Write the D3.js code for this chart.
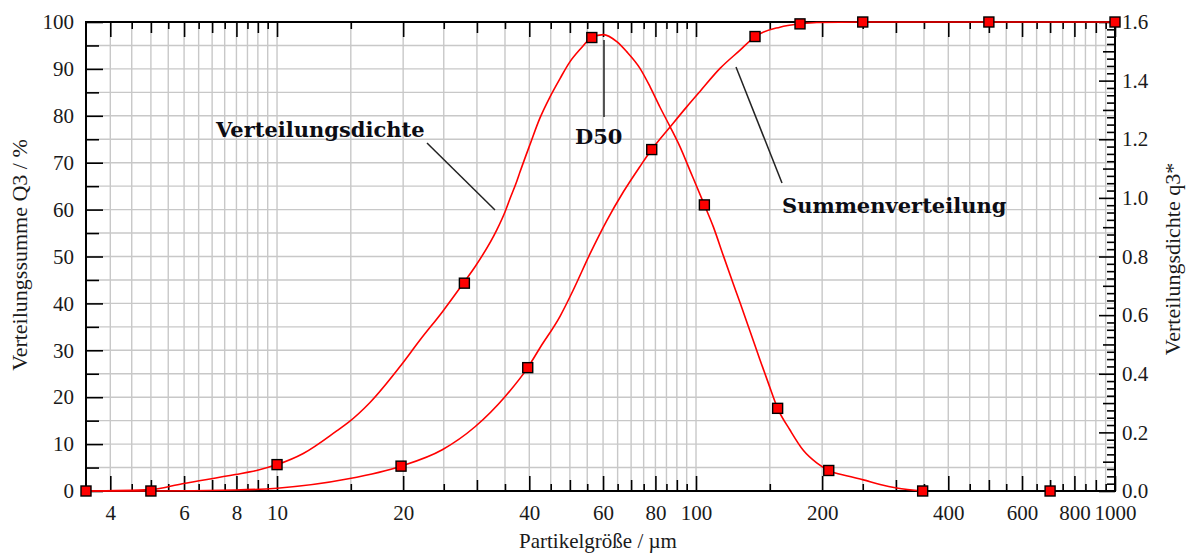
<!DOCTYPE html>
<html>
<head>
<meta charset="utf-8">
<script src="https://cdn.jsdelivr.net/npm/d3@7/dist/d3.min.js"></script>
<style>
  body { margin: 0; background: #fff; }
  svg text { font-family: "Liberation Serif", "Times New Roman", serif; fill: #1a1a1a; }
  .note { font-family: "DejaVu Serif", serif !important; font-weight: bold; fill: #0d0d14; }
</style>
</head>
<body>
<svg id="chart" width="1188" height="556"></svg>
<script>
// tick labels
const xTickLabels = [4, 6, 8, 10, 20, 40, 60, 80, 100, 200, 400, 600, 800, 1000];
const xMidTicks = [5, 7, 9, 30, 50, 70, 90, 300, 500, 700, 900];
const yLeftLabels = [0, 10, 20, 30, 40, 50, 60, 70, 80, 90, 100];
const yRightLabels = [0, 0.2, 0.4, 0.6, 0.8, 1.0, 1.2, 1.4, 1.6];

// Verteilungsdichte q3* (right axis), curve
const dichteSize = [3.5, 5, 5.94, 7.95, 8.94, 10, 11.55, 13.88, 14.8, 16.67, 19.77, 21.94, 24.8, 27.84,
  29.69, 33.44, 35.0, 35.97, 37.33, 38.0, 40.2, 42.4, 44.8, 47.4, 50.0, 52.9, 56.4, 60.1, 64.7, 68.3,
  73.5, 77.7, 82.0, 86.7, 91.6, 96.7, 104.7, 110.0, 116.2, 122.7, 127.4, 134.5, 142.1, 148.8, 156.6,
  167.6, 180.3, 194.1, 207.4, 230, 250.8, 275, 301.3, 347.5];
const dichteQ3 = [0, 0.005, 0.025, 0.056, 0.070, 0.090, 0.128, 0.205, 0.234, 0.302, 0.429, 0.515, 0.611, 0.709,
  0.765, 0.890, 0.952, 0.997, 1.056, 1.088, 1.184, 1.272, 1.344, 1.408, 1.464, 1.507, 1.547, 1.557, 1.533, 1.499,
  1.442, 1.379, 1.310, 1.243, 1.174, 1.094, 0.976, 0.901, 0.803, 0.707, 0.642, 0.546, 0.448, 0.368, 0.282,
  0.208, 0.139, 0.096, 0.070, 0.051, 0.038, 0.022, 0.010, 0];
const dichteMarkSize = [3.5, 10, 28, 56.4, 104.7, 156.6, 207.4, 347.5, 700];
const dichteMarkQ3 = [0, 0.090, 0.709, 1.547, 0.976, 0.282, 0.070, 0, 0];

// Summenverteilung Q3 in % (left axis)
const summeSize = [3.5, 5, 7.95, 10, 14.8, 19.77, 24.8, 29.69, 35.0, 39.66, 42.4, 47.4, 50.9, 55.8, 61.2,
  67.1, 73.5, 78.4, 86.7, 95.0, 102.2, 114.1, 127.4, 138.3, 158.6, 177.1, 194.1, 250, 500, 1000];
const summeQ3 = [0, 0, 0.2, 0.6, 2.6, 5.3, 8.8, 13.7, 20.1, 26.3, 30.5, 37.3, 42.8, 50.5, 57.6,
  63.8, 69.2, 72.8, 77.6, 81.9, 85.2, 90.1, 94.0, 96.9, 98.9, 99.6, 99.9, 100, 100, 100];
const summeMarkSize = [5, 19.77, 39.66, 78.4, 138.3, 177.1, 250, 500, 1000];
const summeMarkQ3 = [0, 5.3, 26.3, 72.8, 96.9, 99.6, 100, 100, 100];

const svg = d3.select("#chart");
const plotLeft = 86, plotRight = 1115, plotTop = 22, plotBottom = 491;

const x = d3.scaleLog().domain([3.5, 1000]).range([plotLeft, plotRight]);
const yL = d3.scaleLinear().domain([0, 100]).range([plotBottom, plotTop]);
const yR = d3.scaleLinear().domain([0, 1.6]).range([plotBottom, plotTop]);

// grid: 0.5 steps below 10, 5 steps up to 100, 50 steps up to 1000
const xGrid = [...d3.range(4, 10, 0.5), ...d3.range(10, 100, 5), ...d3.range(100, 1000, 50)];
const xShort = xGrid.filter(v => !xTickLabels.includes(v) && !xMidTicks.includes(v));

svg.append("g")
  .selectAll("line")
  .data(xGrid)
  .join("line")
  .attr("x1", d => x(d)).attr("x2", d => x(d))
  .attr("y1", plotTop).attr("y2", plotBottom)
  .attr("stroke", "#c8c8c8").attr("stroke-width", 1.4);

svg.append("g")
  .selectAll("line")
  .data(d3.range(5, 100, 5))
  .join("line")
  .attr("x1", plotLeft).attr("x2", plotRight)
  .attr("y1", d => yL(d)).attr("y2", d => yL(d))
  .attr("stroke", "#c8c8c8").attr("stroke-width", 1.4);

// axes with inward ticks
function tickAxis(axis, vals, size) {
  return axis.tickValues(vals).tickSizeInner(-size).tickSizeOuter(0).tickFormat("");
}
function styleAxis(g) {
  g.select(".domain").remove();
  g.selectAll(".tick line").attr("stroke", "#000").attr("stroke-width", 1.6);
  g.selectAll(".tick text").attr("font-size", 21).attr("fill", "#1a1a1a")
    .attr("font-family", "'Liberation Serif', 'Times New Roman', serif");
}

const gB = svg.append("g").attr("transform", `translate(0,${plotBottom})`);
gB.append("g").call(d3.axisBottom(x).tickValues(xTickLabels).tickSizeInner(-15).tickSizeOuter(0)
  .tickPadding(14).tickFormat(d3.format("d"))).call(styleAxis);
gB.append("g").call(tickAxis(d3.axisBottom(x), xMidTicks, 11)).call(styleAxis);
gB.append("g").call(tickAxis(d3.axisBottom(x), xShort, 7)).call(styleAxis);

const gT = svg.append("g").attr("transform", `translate(0,${plotTop})`);
gT.append("g").call(tickAxis(d3.axisTop(x), xTickLabels, 15)).call(styleAxis);
gT.append("g").call(tickAxis(d3.axisTop(x), xMidTicks, 11)).call(styleAxis);
gT.append("g").call(tickAxis(d3.axisTop(x), xShort, 7)).call(styleAxis);

const gL = svg.append("g").attr("transform", `translate(${plotLeft},0)`);
gL.append("g").call(d3.axisLeft(yL).tickValues(yLeftLabels).tickSizeInner(-17).tickSizeOuter(0)
  .tickPadding(12)).call(styleAxis);
gL.append("g").call(tickAxis(d3.axisLeft(yL), d3.range(5, 100, 10), 13)).call(styleAxis);

const gR = svg.append("g").attr("transform", `translate(${plotRight},0)`);
gR.append("g").call(d3.axisRight(yR).tickValues(yRightLabels).tickSizeInner(-16).tickSizeOuter(0)
  .tickPadding(7).tickFormat(d3.format(".1f"))).call(styleAxis);
gR.append("g").call(tickAxis(d3.axisRight(yR), d3.range(1, 16, 2).map(d => d / 10), 12)).call(styleAxis);
gR.append("g").call(tickAxis(d3.axisRight(yR),
  d3.range(0, 65).map(d => d * 0.025).filter((d, i) => i % 4 !== 0), 8)).call(styleAxis);

// frame
svg.append("rect")
  .attr("x", plotLeft).attr("y", plotTop)
  .attr("width", plotRight - plotLeft).attr("height", plotBottom - plotTop)
  .attr("fill", "none").attr("stroke", "#000").attr("stroke-width", 2);

// axis titles
svg.append("text")
  .attr("x", 598).attr("y", 548)
  .attr("text-anchor", "middle").attr("font-size", 21)
  .text("Partikelgröße / µm");
svg.append("text")
  .attr("transform", "translate(27,255) rotate(-90)")
  .attr("text-anchor", "middle").attr("font-size", 22)
  .text("Verteilungssumme Q3 / %");
svg.append("text")
  .attr("transform", "translate(1180,259) rotate(-90)")
  .attr("text-anchor", "middle").attr("font-size", 22)
  .text("Verteilungsdichte q3*");

// curves
const line = d3.line().curve(d3.curveMonotoneX);
svg.append("path")
  .attr("d", line(dichteSize.map((s, i) => [x(s), yR(dichteQ3[i])])))
  .attr("fill", "none").attr("stroke", "#ff0000").attr("stroke-width", 1.6);
svg.append("path")
  .attr("d", line(summeSize.map((s, i) => [x(s), yL(summeQ3[i])])))
  .attr("fill", "none").attr("stroke", "#ff0000").attr("stroke-width", 1.6);

// square markers
const marks = [
  ...dichteMarkSize.map((s, i) => [x(s), yR(dichteMarkQ3[i])]),
  ...summeMarkSize.map((s, i) => [x(s), yL(summeMarkQ3[i])])
];
svg.append("g")
  .selectAll("rect")
  .data(marks)
  .join("rect")
  .attr("x", d => d[0] - 5).attr("y", d => d[1] - 5)
  .attr("width", 10).attr("height", 10)
  .attr("fill", "#f00").attr("stroke", "#000").attr("stroke-width", 1.4);

// annotations with leader lines
const leaders = [
  [427, 143, 495, 210],
  [604, 40, 604, 117],
  [736, 67, 782, 183]
];
svg.append("g")
  .selectAll("line")
  .data(leaders)
  .join("line")
  .attr("x1", d => d[0]).attr("y1", d => d[1])
  .attr("x2", d => d[2]).attr("y2", d => d[3])
  .attr("stroke", "#222").attr("stroke-width", 1.5);

svg.append("text").attr("class", "note").attr("x", 216).attr("y", 137).attr("font-size", 21).text("Verteilungsdichte");
svg.append("text").attr("class", "note").attr("x", 575).attr("y", 144).attr("font-size", 21).text("D50");
svg.append("text").attr("class", "note").attr("x", 782).attr("y", 213).attr("font-size", 21).text("Summenverteilung");
</script>
</body>
</html>
